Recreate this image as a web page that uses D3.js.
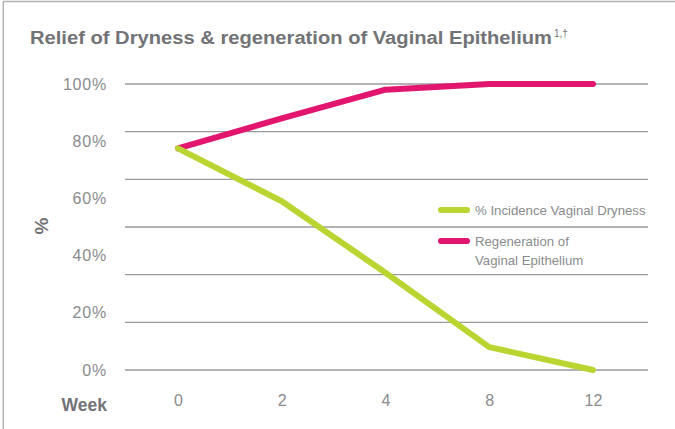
<!DOCTYPE html>
<html>
<head>
<meta charset="utf-8">
<title>Relief of Dryness</title>
<style>
  body { margin: 0; background: #fff; }
  text { font-family: "Liberation Sans", Arial, sans-serif; }
</style>
</head>
<body>
<div id="chart"></div>
<script src="https://d3js.org/d3.v7.min.js"></script>
<script>
// chart values
var weeks = ["0", "2", "4", "8", "12"];
var dryness = [77.5, 59, 34, 8, 0];        // % Incidence Vaginal Dryness
var regeneration = [77.5, 88, 98, 100, 100]; // Regeneration of Vaginal Epithelium
var yTicks = [0, 20, 40, 60, 80, 100];
var seriesNames = [["% Incidence Vaginal Dryness"], ["Regeneration of", "Vaginal Epithelium"]];
var colors = ["#bad531", "#e2156f"];

var w = 675, h = 429;
var svg = d3.select("#chart").append("svg")
    .attr("width", w).attr("height", h);

// frame: top and left border
svg.append("line").attr("x1", 3).attr("x2", w).attr("y1", 1.5).attr("y2", 1.5)
    .attr("stroke", "#b3b3b3").attr("stroke-width", 1.5);
svg.append("line").attr("x1", 3.3).attr("x2", 3.3).attr("y1", 1).attr("y2", h)
    .attr("stroke", "#b3b3b3").attr("stroke-width", 1.5);

// title
svg.append("text").attr("x", 30).attr("y", 44)
    .attr("fill", "#727376").attr("font-weight", "bold").attr("font-size", 18)
    .attr("textLength", 522).attr("lengthAdjust", "spacingAndGlyphs")
    .text("Relief of Dryness & regeneration of Vaginal Epithelium");
svg.append("text").attr("x", 554).attr("y", 37)
    .attr("fill", "#727376").attr("font-size", 10)
    .text("1,†");

var x = d3.scalePoint().domain(weeks).range([178, 593]);
var y = d3.scaleLinear().domain([0, 100]).range([370, 84]);

// gridlines (six equal bands)
var grid = d3.range(0, 7).map(function(i) { return i * 100 / 6; });
svg.append("g").selectAll("line").data(grid).enter().append("line")
    .attr("x1", 125).attr("x2", 648)
    .attr("y1", function(d) { return y(d); })
    .attr("y2", function(d) { return y(d); })
    .attr("stroke", "#9a9a9a").attr("stroke-width", 1.3);

// y tick labels
var yAxis = d3.axisLeft(y).tickValues(yTicks).tickSize(0).tickPadding(0)
    .tickFormat(function(d) { return d + "%"; });
var ya = svg.append("g").attr("transform", "translate(107,0)").call(yAxis);
ya.select(".domain").remove();
ya.selectAll("text").attr("fill", "#8a8b8d").attr("font-size", 16)
    .attr("font-family", "Roboto, 'Liberation Sans', sans-serif").attr("font-weight", 300)
    .attr("letter-spacing", 0.8);

// x tick labels
var xAxis = d3.axisBottom(x).tickSize(0).tickPadding(0);
var xa = svg.append("g").attr("transform", "translate(0,395)").call(xAxis);
xa.select(".domain").remove();
xa.selectAll("text").attr("fill", "#8a8b8d").attr("font-size", 16)
    .attr("font-family", "Roboto, 'Liberation Sans', sans-serif").attr("font-weight", 300);

// axis titles
svg.append("text").attr("x", 107).attr("y", 411).attr("text-anchor", "end")
    .attr("fill", "#727376").attr("font-weight", "bold").attr("font-size", 17.5)
    .text("Week");
svg.append("text").attr("transform", "translate(48,226) rotate(-90)")
    .attr("text-anchor", "middle")
    .attr("fill", "#727376").attr("font-weight", "bold").attr("font-size", 19)
    .text("%");

// lines
var line = d3.line()
    .x(function(d, i) { return x(weeks[i]); })
    .y(function(d) { return y(d); });
[regeneration, dryness].forEach(function(s, k) {
    svg.append("path").datum(s)
        .attr("d", line)
        .attr("fill", "none")
        .attr("stroke", colors[1 - k])
        .attr("stroke-width", 6)
        .attr("stroke-linecap", "round")
        .attr("stroke-linejoin", "round");
});

// legend
var legY = [210, 241];
seriesNames.forEach(function(names, i) {
    svg.append("line").attr("x1", 441).attr("x2", 467)
        .attr("y1", legY[i]).attr("y2", legY[i])
        .attr("stroke", colors[i]).attr("stroke-width", 6).attr("stroke-linecap", "round");
    names.forEach(function(t, j) {
        svg.append("text").attr("x", 475).attr("y", legY[i] + 4.5 + j * 19)
            .attr("fill", "#8a8b8d").attr("font-size", 13.2)
            .attr("font-family", "Roboto, 'Liberation Sans', sans-serif").attr("font-weight", 300)
            .text(t);
    });
});
</script>
</body>
</html>
